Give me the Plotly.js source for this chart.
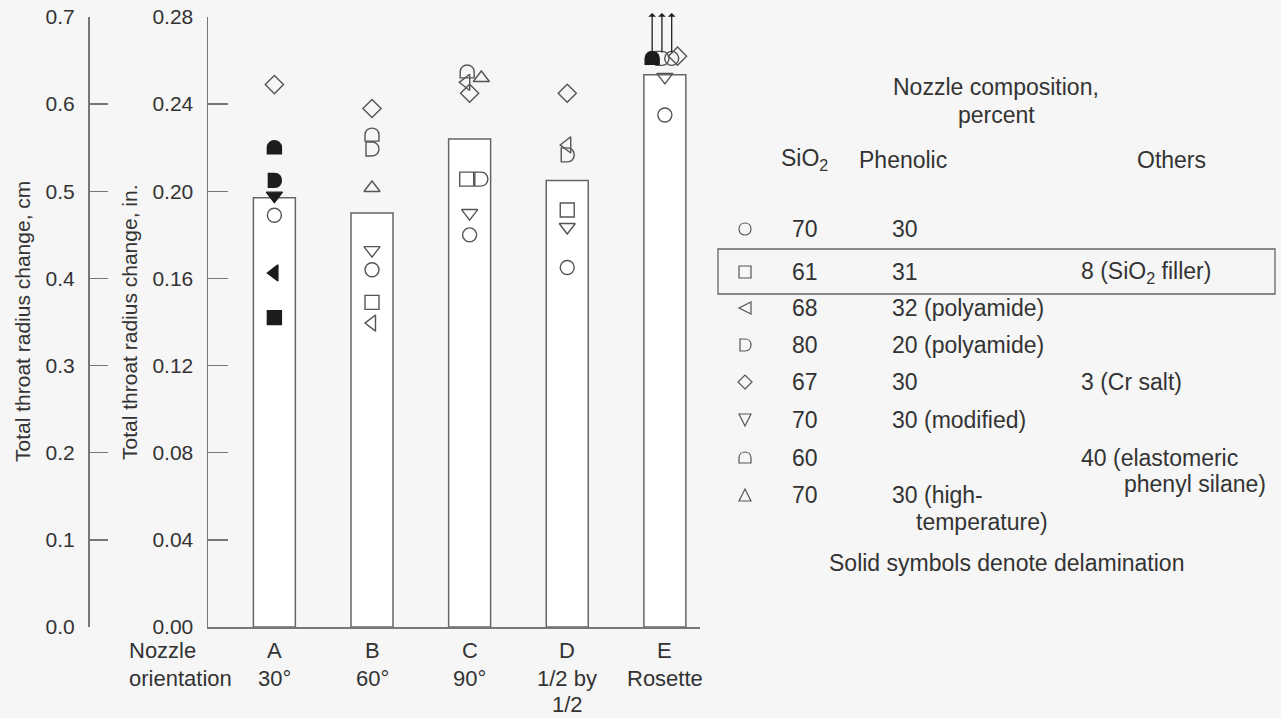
<!DOCTYPE html>
<html><head><meta charset="utf-8">
<script src="https://cdn.plot.ly/plotly-3.0.1.min.js"></script>
<style>html,body{margin:0;padding:0;background:#f6f6f6;} #chart{width:1281px;height:718px;}</style>
</head><body><div id="chart"></div>
<script>
// ---------- DATA ----------
const nozzles = ['A', 'B', 'C', 'D', 'E'];
const orientations = ['30°', '60°', '90°', '1/2 by<br>1/2', 'Rosette'];
const barValues = [0.197, 0.190, 0.224, 0.205, 0.2535];   // total throat radius change, in.

// individual nozzle results, in. (null = none)
const s70_30      = [0.189, 0.164, 0.180, 0.165, 0.235];   // SiO2 70 / phenolic 30
const s70_30_rep  = [null,  null,  null,  null,  0.261];   // SiO2 70 / phenolic 30, second (off scale)
const s61_31_8    = [0.142, 0.149, 0.2056, 0.1914, null];  // 61 / 31 / 8 SiO2 filler
const s68_32poly  = [0.1625, 0.1395, 0.250, 0.2213, null]; // 68 / 32 polyamide
const s80_20poly  = [0.205, 0.2194, 0.2056, 0.2167, 0.261];// 80 / 20 polyamide
const s67_30_3cr  = [0.249, 0.238, 0.245, 0.245, 0.262];   // 67 / 30 / 3 Cr salt
const s70_30mod   = [0.198, 0.173, 0.190, 0.1836, 0.2525]; // 70 / 30 modified
const s60_40elast = [0.220, 0.2258, 0.2548, null, 0.261];  // 60 / 40 elastomeric phenyl silane
const s70_30high  = [null,  0.2015, 0.252, null, null];    // 70 / 30 high-temperature

const delaminated = {
  s61_31_8: ['A'], s68_32poly: ['A'], s80_20poly: ['A'], s70_30mod: ['A'], s60_40elast: ['A', 'E']
};
const offScale = [['s60_40elast', 'E'], ['s80_20poly', 'E'], ['s70_30_rep', 'E']];

const legendRows = [
  ['circle',  '70', '30', ''],
  ['square',  '61', '31', '8 (SiO<sub>2</sub> filler)'],
  ['triL',    '68', '32 (polyamide)', ''],
  ['dshape',  '80', '20 (polyamide)', ''],
  ['diamond', '67', '30', '3 (Cr salt)'],
  ['triD',    '70', '30 (modified)', ''],
  ['elast',   '60', '', '40 (elastomeric'],
  ['triU',    '70', '30 (high-', '']
];

// ---------- STYLE ----------
const INK = '#555', SOLID = '#1c1c1c', AX = '#777', TXT = '#333';
const FONT = 'Liberation Sans, Arial, Helvetica, sans-serif';
const series = [
  {key: 's70_30', data: s70_30, kind: 'circle'},
  {key: 's70_30_rep', data: s70_30_rep, kind: 'circle'},
  {key: 's61_31_8', data: s61_31_8, kind: 'square'},
  {key: 's68_32poly', data: s68_32poly, kind: 'triangle-left'},
  {key: 's80_20poly', data: s80_20poly, kind: 'dshape'},
  {key: 's67_30_3cr', data: s67_30_3cr, kind: 'diamond'},
  {key: 's70_30mod', data: s70_30mod, kind: 'triangle-down'},
  {key: 's60_40elast', data: s60_40elast, kind: 'elast'},
  {key: 's70_30high', data: s70_30high, kind: 'triangle-up'}
];
// small horizontal nudges so that coinciding symbols stay legible
const nudge = {
  's61_31_8|C': -0.03, 's80_20poly|C': 0.115, 's60_40elast|C': -0.025, 's68_32poly|C': -0.035,
  's70_30high|C': 0.12, 's60_40elast|E': -0.13, 's80_20poly|E': -0.03, 's70_30_rep|E': 0.07,
  's67_30_3cr|E': 0.13
};
const sizes = {circle: 14, square: 14, 'triangle-left': 14, diamond: 14, 'triangle-down': 14, 'triangle-up': 14};
const paths = {
  dshape: 'M -6,-7 L 0,-7 C 9.3,-7 9.3,7 0,7 L -6,7 Z',
  elast: 'M -7,-6 L -7,0 C -7,9.3 7,9.3 7,0 L 7,-6 Z'
};
const legPaths = {
  circle: 'M -6,0 C -6,8 6,8 6,0 C 6,-8 -6,-8 -6,0 Z',
  square: 'M -6,-6 L 6,-6 L 6,6 L -6,6 Z',
  triL: 'M 6,-6 L -6,0 L 6,6 Z',
  dshape: 'M -5,-6 L 0,-6 C 8,-6 8,6 0,6 L -5,6 Z',
  diamond: 'M 0,-7 L 7,0 L 0,7 L -7,0 Z',
  triD: 'M -6,6 L 6,6 L 0,-6 Z',
  elast: 'M -6,-5 L -6,0 C -6,8 6,8 6,0 L 6,-5 Z',
  triU: 'M -6,-6 L 6,-6 L 0,6 Z'
};

// ---------- BUILD ----------
const idx = nozzles.map((_, i) => i);
const traces = [];
const shapes = [];
const annotations = [];

traces.push({
  type: 'bar', x: idx, y: barValues, width: 0.43,
  marker: {color: '#ffffff', line: {color: '#666', width: 1.5}},
  hoverinfo: 'skip', showlegend: false
});
// invisible trace so the cm axis is drawn
traces.push({
  type: 'scatter', mode: 'markers', x: idx, y: barValues.map(v => v * 2.5), yaxis: 'y2',
  marker: {opacity: 0}, hoverinfo: 'skip', showlegend: false
});

const posOf = (key, i) => ({x: i + (nudge[key + '|' + nozzles[i]] || 0), y: series.find(s => s.key === key).data[i]});

series.forEach(s => {
  const solidSet = delaminated[s.key] || [];
  if (paths[s.kind]) {
    s.data.forEach((v, i) => {
      if (v === null) return;
      const solid = solidSet.includes(nozzles[i]);
      const p = posOf(s.key, i);
      shapes.push({
        type: 'path', xref: 'x', yref: 'y', xsizemode: 'pixel', ysizemode: 'pixel',
        xanchor: p.x, yanchor: p.y, path: paths[s.kind],
        line: {color: solid ? SOLID : INK, width: 1.4},
        fillcolor: solid ? SOLID : 'rgba(0,0,0,0)', layer: 'above'
      });
    });
  } else {
    [false, true].forEach(solid => {
      const xs = [], ys = [];
      s.data.forEach((v, i) => {
        if (v === null) return;
        if (solidSet.includes(nozzles[i]) !== solid) return;
        const p = posOf(s.key, i);
        xs.push(p.x); ys.push(p.y);
      });
      if (!xs.length) return;
      traces.push({
        type: 'scatter', mode: 'markers', x: xs, y: ys, cliponaxis: false,
        marker: {
          symbol: solid ? s.kind : s.kind + '-open', size: sizes[s.kind],
          color: solid ? SOLID : INK, line: {color: solid ? SOLID : INK, width: 1.4}
        },
        hoverinfo: 'skip', showlegend: false
      });
    });
  }
});

// upward arrows for off-scale results
offScale.forEach(([key, noz]) => {
  const p = posOf(key, nozzles.indexOf(noz));
  annotations.push({
    xref: 'x', yref: 'y', x: p.x, y: p.y, ax: 0, ay: -47, text: '',
    showarrow: true, arrowside: 'start', arrowhead: 2, arrowsize: 1, arrowwidth: 1.3,
    arrowcolor: '#222', standoff: 6
  });
});

// pixel helpers for the key and titles (plot area: x 88..700, y 17..627)
const W0 = 88, PW = 612, H0 = 627, PH = 610;
const px = x => (x - W0) / PW, py = y => (H0 - y) / PH;
const note = (x, y, text, xa, extra, size) => Object.assign({
  xref: 'paper', yref: 'paper', x: px(x), y: py(y), text, showarrow: false,
  xanchor: xa || 'left', yanchor: 'middle', font: {family: FONT, size: size || 23, color: TXT}
}, extra || {});

// category labels under the bars (one annotation per line for the original's line spacing)
const lineY = [650, 678, 704];
nozzles.forEach((n, i) => {
  [n].concat(orientations[i].split('<br>')).forEach((t, k) => {
    annotations.push(Object.assign(note(0, lineY[k], t, 'center', null, 22), {xref: 'x', x: i}));
  });
});
annotations.push(note(127, 650, 'Nozzle', 'left', null, 22));
annotations.push(note(127, 678, 'orientation', 'left', null, 22));

annotations.push(note(22, 322, 'Total throat radius change, cm', 'center', {textangle: -90}, 21));
annotations.push(note(129, 322, 'Total throat radius change, in.', 'center', {textangle: -90}, 21));

annotations.push(note(996, 87, 'Nozzle composition,', 'center'));
annotations.push(note(996, 115, 'percent', 'center'));
annotations.push(note(804, 160, 'SiO<sub>2</sub>', 'center'));
annotations.push(note(857, 160, 'Phenolic', 'left'));
annotations.push(note(1171, 160, 'Others', 'center'));

const rowY = [229, 272, 308, 345, 382, 420, 458, 495];
legendRows.forEach((r, k) => {
  const y = rowY[k];
  shapes.push({
    type: 'path', xref: 'paper', yref: 'paper', xsizemode: 'pixel', ysizemode: 'pixel',
    xanchor: px(745), yanchor: py(y), path: legPaths[r[0]],
    line: {color: INK, width: 1.2}, fillcolor: 'rgba(0,0,0,0)'
  });
  annotations.push(note(790, y, r[1], 'left'));
  if (r[2]) annotations.push(note(890, y, r[2], 'left'));
  if (r[3]) annotations.push(note(1079, y, r[3], 'left'));
});
annotations.push(note(1268, 484, 'phenyl silane)', 'right'));
annotations.push(note(914, 522, 'temperature)', 'left'));
annotations.push(note(1006, 563, 'Solid symbols denote delamination', 'center'));

shapes.push({
  type: 'rect', xref: 'paper', yref: 'paper', x0: px(718), x1: px(1275), y0: py(294), y1: py(249),
  line: {color: '#666', width: 1.3}, fillcolor: 'rgba(0,0,0,0)'
});

const layout = {
  width: 1281, height: 718,
  margin: {l: 88, r: 581, t: 17, b: 91, pad: 0},
  paper_bgcolor: '#f6f6f6', plot_bgcolor: 'rgba(0,0,0,0)',
  font: {family: FONT, size: 21, color: TXT},
  showlegend: false,
  xaxis: {
    domain: [px(208), 1], range: [-0.68, 4.36], showgrid: false, zeroline: false,
    showline: true, linecolor: AX, linewidth: 1.5, ticks: '',
    tickvals: idx, showticklabels: false, fixedrange: true
  },
  yaxis: {
    range: [0, 0.28], tickvals: [0, 0.04, 0.08, 0.12, 0.16, 0.20, 0.24, 0.28], tickformat: '.2f',
    showgrid: false, zeroline: false, showline: true, linecolor: AX, linewidth: 1.5,
    ticks: 'inside', ticklen: 20, tickwidth: 1.5, tickcolor: AX, ticklabelstandoff: 9, anchor: 'x'
  },
  yaxis2: {
    range: [0, 0.7], tickvals: [0, 0.1, 0.2, 0.3, 0.4, 0.5, 0.6, 0.7], tickformat: '.1f',
    overlaying: 'y', anchor: 'free', position: 0, side: 'left',
    showgrid: false, zeroline: false, showline: true, linecolor: AX, linewidth: 1.5,
    ticks: 'inside', ticklen: 18, tickwidth: 1.5, tickcolor: AX, ticklabelstandoff: 9
  },
  shapes, annotations
};

Plotly.newPlot('chart', traces, layout, {staticPlot: true, displayModeBar: false});
</script></body></html>
